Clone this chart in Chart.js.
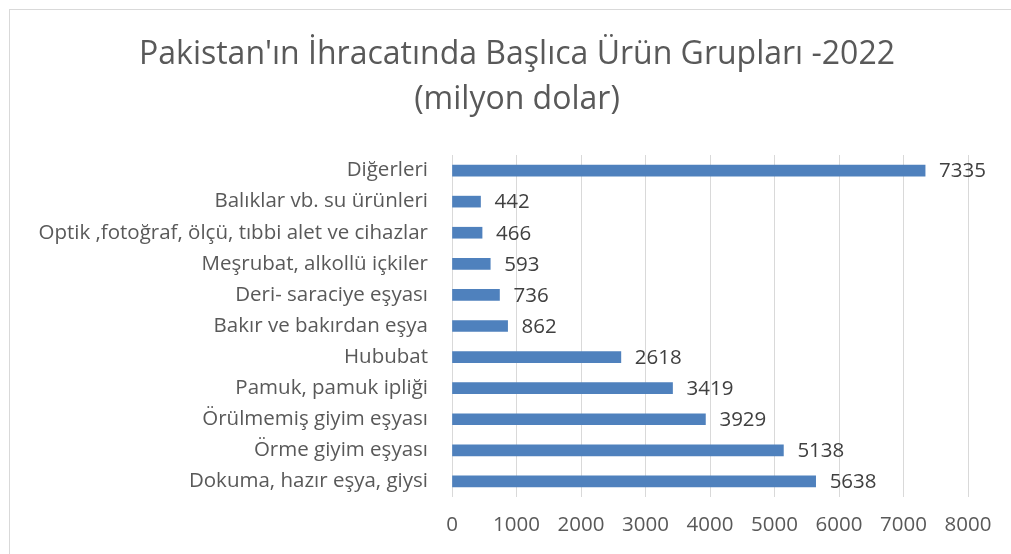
<!DOCTYPE html>
<html>
<head>
<meta charset="utf-8">
<script src="https://cdn.jsdelivr.net/npm/chart.js@4.4.1/dist/chart.umd.min.js"></script>
<style>
    html, body { margin: 0; padding: 0; background: #fff; }
    #wrap { position: relative; width: 1011px; height: 554px; overflow: hidden; }
    #frame { position: absolute; left: 9px; top: 9px; width: 1010px; height: 560px; border: 1px solid #d9d9d9; box-sizing: border-box; }
    canvas { position: absolute; left: 0; top: 0; }
</style>
</head>
<body>
<div id="wrap">
    <div id="frame"></div>
    <canvas id="chart" width="1011" height="554"></canvas>
</div>
<script>
const categories = [
    'Diğerleri',
    'Balıklar vb. su ürünleri',
    'Optik ,fotoğraf, ölçü, tıbbi alet ve cihazlar',
    'Meşrubat, alkollü içkiler',
    'Deri- saraciye eşyası',
    'Bakır ve bakırdan eşya',
    'Hububat',
    'Pamuk, pamuk ipliği',
    'Örülmemiş giyim eşyası',
    'Örme giyim eşyası',
    'Dokuma, hazır eşya, giysi'
];
const values = [7335, 442, 466, 593, 736, 862, 2618, 3419, 3929, 5138, 5638];
const xTicks = [0, 1000, 2000, 3000, 4000, 5000, 6000, 7000, 8000];
const titleLines = ["Pakistan'ın İhracatında Başlıca Ürün Grupları -2022", '(milyon dolar)'];

const FONT = "'Open Sans', 'Noto Sans', sans-serif";

// title centred on the chart frame rather than the canvas
const frameTitle = {
    id: 'frameTitle',
    afterDraw(chart) {
        const ctx = chart.ctx;
        ctx.save();
        ctx.font = '32px ' + FONT;
        ctx.fillStyle = '#595959';
        ctx.textAlign = 'center';
        ctx.textBaseline = 'middle';
        titleLines.forEach((line, i) => ctx.fillText(line, 517, 55 + i * 45));
        ctx.restore();
    }
};

// value labels just past the end of each bar
const valueLabels = {
    id: 'valueLabels',
    afterDatasetsDraw(chart) {
        const ctx = chart.ctx;
        const meta = chart.getDatasetMeta(0);
        ctx.save();
        ctx.font = '20.5px ' + FONT;
        ctx.fillStyle = '#404040';
        ctx.textAlign = 'left';
        ctx.textBaseline = 'middle';
        meta.data.forEach((bar, i) => {
            ctx.fillText(String(values[i]), bar.x + 14, bar.y + 1);
        });
        ctx.restore();
    }
};

new Chart(document.getElementById('chart').getContext('2d'), {
    type: 'bar',
    data: {
        labels: categories,
        datasets: [{
            data: values,
            backgroundColor: '#4f81bd',
            barThickness: 11
        }]
    },
    options: {
        indexAxis: 'y',
        responsive: false,
        animation: false,
        layout: { padding: { left: 0, right: 43, top: 155, bottom: 0 } },
        plugins: {
            legend: { display: false },
            tooltip: { enabled: false },
            title: { display: false }
        },
        scales: {
            x: {
                min: 0,
                max: 8000,
                afterBuildTicks: s => { s.ticks = xTicks.map(v => ({ value: v })); },
                afterFit: s => { s.height = 57; },
                grid: { color: '#d9d9d9', drawTicks: false },
                border: { display: false },
                ticks: {
                    color: '#595959',
                    padding: 16,
                    font: { family: FONT, size: 20.5 },
                    callback: v => String(v)
                }
            },
            y: {
                afterFit: s => { s.width = 452; },
                grid: { display: false, drawTicks: false },
                border: { display: false },
                ticks: { color: '#595959', padding: 24, font: { family: FONT, size: 20.5 } }
            }
        }
    },
    plugins: [valueLabels, frameTitle]
});
</script>
</body>
</html>
